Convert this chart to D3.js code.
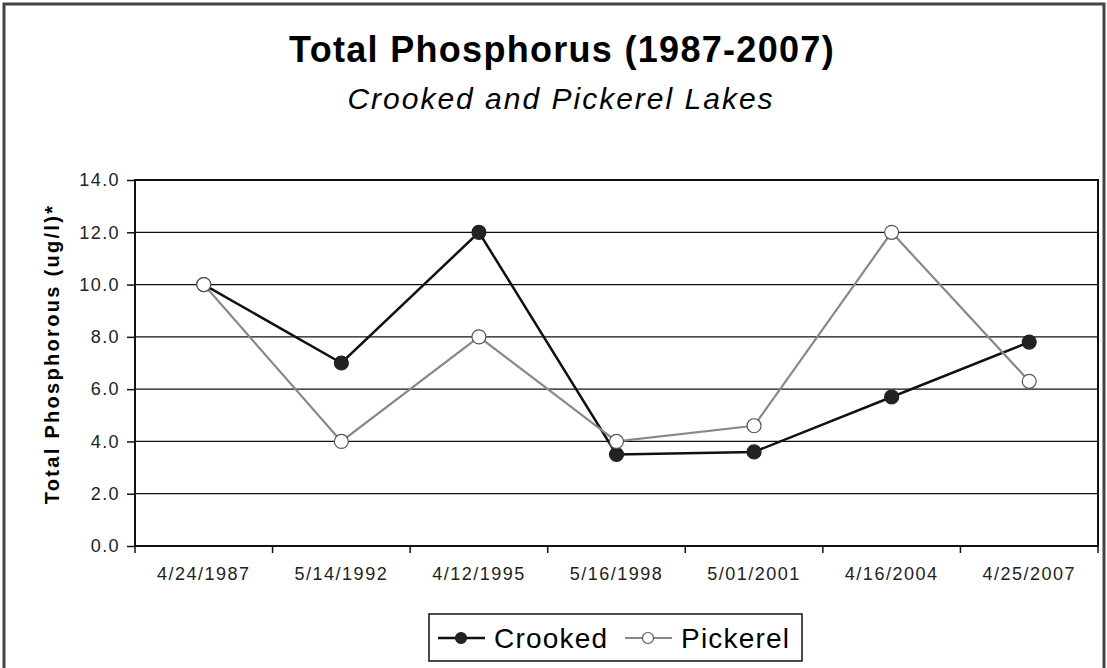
<!DOCTYPE html>
<html>
<head>
<meta charset="utf-8">
<script src="https://cdn.jsdelivr.net/npm/d3@7/dist/d3.min.js"></script>
<style>
  body { margin: 0; background: #fff; }
  text { font-family: "Liberation Sans", Arial, sans-serif; }
</style>
</head>
<body>
<div id="chart"></div>
<script>
const dates = ["4/24/1987", "5/14/1992", "4/12/1995", "5/16/1998", "5/01/2001", "4/16/2004", "4/25/2007"];
const crooked = [10.0, 7.0, 12.0, 3.5, 3.6, 5.7, 7.8];
const pickerel = [10.0, 4.0, 8.0, 4.0, 4.6, 12.0, 6.3];
const y_ticks = [0, 2, 4, 6, 8, 10, 12, 14];

const W = 1107, H = 668;
const margins = { top: 180, right: 9, bottom: 122, left: 135 };

const svg = d3.select("#chart").append("svg")
  .attr("width", W).attr("height", H);

// outer frame
svg.append("rect")
  .attr("x", 4).attr("y", 4)
  .attr("width", W - 7).attr("height", H)
  .attr("fill", "none").attr("stroke", "#444").attr("stroke-width", 3);

const x_scale = d3.scaleBand().domain(dates)
  .range([margins.left, W - margins.right]);
const y_scale = d3.scaleLinear().domain([0, 14])
  .range([H - margins.bottom, margins.top]);

// titles
svg.append("text")
  .attr("x", 562).attr("y", 62)
  .attr("text-anchor", "middle")
  .attr("font-size", 36).attr("font-weight", "bold")
  .attr("letter-spacing", 1.3)
  .text("Total Phosphorus (1987-2007)");
svg.append("text")
  .attr("x", 561).attr("y", 109)
  .attr("text-anchor", "middle")
  .attr("font-size", 30).attr("font-style", "italic")
  .attr("letter-spacing", 2)
  .text("Crooked and Pickerel Lakes");

// gridlines
svg.append("g").selectAll("line")
  .data(y_ticks)
  .join("line")
  .attr("x1", margins.left).attr("x2", W - margins.right)
  .attr("y1", d => y_scale(d)).attr("y2", d => y_scale(d))
  .attr("stroke", "#111").attr("stroke-width", 1.3);

// plot frame
svg.append("rect")
  .attr("x", margins.left).attr("y", margins.top)
  .attr("width", W - margins.right - margins.left)
  .attr("height", H - margins.bottom - margins.top)
  .attr("fill", "none").attr("stroke", "#111").attr("stroke-width", 2);

// y axis
const y_axis = d3.axisLeft(y_scale).tickValues(y_ticks)
  .tickFormat(d3.format(".1f")).tickSize(8).tickPadding(7);
const gy = svg.append("g")
  .attr("class", "y axis")
  .attr("transform", `translate(${margins.left}, 0)`)
  .call(y_axis);
gy.select(".domain").remove();
gy.selectAll("line").attr("stroke", "#111").attr("stroke-width", 1.5);
gy.selectAll("text").attr("font-size", 18).attr("letter-spacing", 1.4).attr("fill", "#222");

// x axis: ticks at band boundaries
const x_axis = d3.axisBottom(x_scale).tickSize(0).tickPadding(21);
const gx = svg.append("g")
  .attr("class", "x axis")
  .attr("transform", `translate(0, ${H - margins.bottom})`)
  .call(x_axis);
gx.select(".domain").remove();
gx.selectAll("text").attr("font-size", 18).attr("letter-spacing", 1.5).attr("fill", "#222");
gx.selectAll(".bound")
  .data(dates.map(d => x_scale(d)).concat([x_scale.range()[1]]))
  .join("line")
  .attr("class", "bound")
  .attr("x1", d => d).attr("x2", d => d)
  .attr("y1", 0).attr("y2", 7)
  .attr("stroke", "#111").attr("stroke-width", 1.5);

const cx = d => x_scale(d) + x_scale.bandwidth() / 2;
const line = d3.line()
  .x(d => cx(d[0]))
  .y(d => y_scale(d[1]));

const series = [
  { name: "Crooked", values: crooked, stroke: "#111", width: 2.5, fill: "#222", mstroke: "#222" },
  { name: "Pickerel", values: pickerel, stroke: "#888", width: 2.2, fill: "#fff", mstroke: "#555" }
];

series.forEach(s => {
  svg.append("path")
    .datum(dates.map((d, i) => [d, s.values[i]]))
    .attr("d", line)
    .attr("fill", "none")
    .attr("stroke", s.stroke)
    .attr("stroke-width", s.width);
});
series.forEach(s => {
  svg.append("g").selectAll("circle")
    .data(dates.map((d, i) => [d, s.values[i]]))
    .join("circle")
    .attr("cx", d => cx(d[0]))
    .attr("cy", d => y_scale(d[1]))
    .attr("r", 7)
    .attr("fill", s.fill)
    .attr("stroke", s.mstroke)
    .attr("stroke-width", 1.2);
});

// y label
svg.append("text")
  .attr("transform", "translate(59, 354) rotate(-90)")
  .attr("text-anchor", "middle")
  .attr("font-size", 20).attr("font-weight", "bold")
  .attr("letter-spacing", 2.3)
  .text("Total Phosphorous (ug/l)*");

// legend
const legend = svg.append("g").attr("class", "legend")
  .attr("transform", "translate(429, 614)");
legend.append("rect")
  .attr("width", 373).attr("height", 47)
  .attr("fill", "#fff").attr("stroke", "#111").attr("stroke-width", 1.5);
const leg_x = [9, 196];
series.forEach((s, i) => {
  const g = legend.append("g").attr("transform", `translate(${leg_x[i]}, 24)`);
  g.append("line").attr("x1", 0).attr("x2", 47)
    .attr("stroke", s.stroke).attr("stroke-width", s.width);
  g.append("circle").attr("cx", 23).attr("r", 5.5)
    .attr("fill", s.fill).attr("stroke", s.mstroke).attr("stroke-width", 1.2);
  g.append("text").attr("x", 56).attr("y", 10)
    .attr("font-size", 28).attr("letter-spacing", 1.2).text(s.name);
});
</script>
</body>
</html>
